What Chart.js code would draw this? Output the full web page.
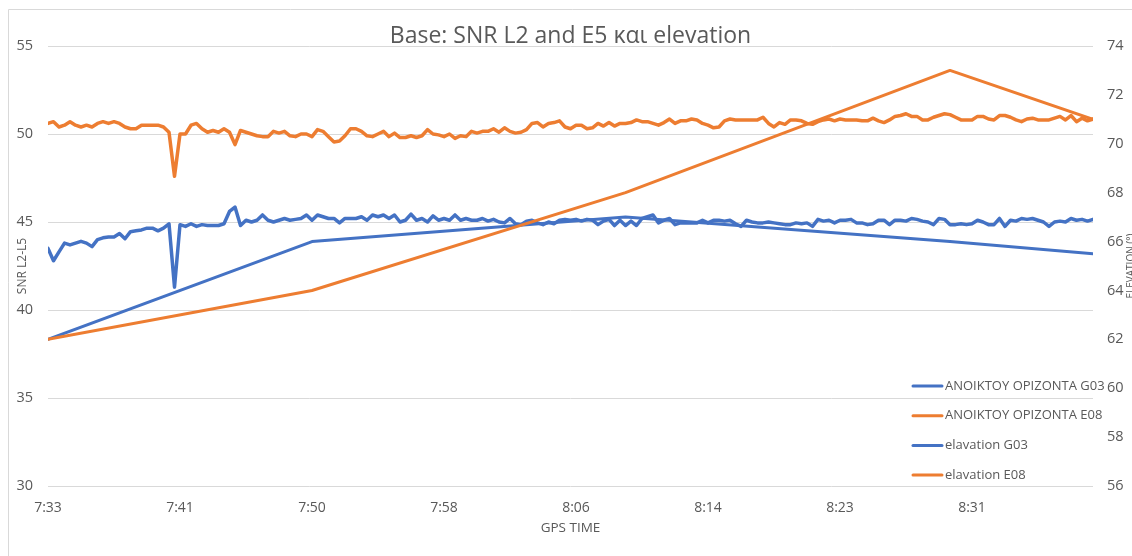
<!DOCTYPE html>
<html>
<head>
<meta charset="utf-8">
<title>Base: SNR L2 and E5 και elevation</title>
<script src="https://cdn.jsdelivr.net/npm/chart.js@4.4.1/dist/chart.umd.min.js"></script>
<style>
  html, body { margin: 0; padding: 0; overflow: hidden; background: #ffffff; }
  canvas { display: block; }
</style>
</head>
<body>
<canvas id="chart" width="1136" height="556"></canvas>
<script>
// GPS time labels, one every 24 samples along the time axis
const tickLabels = ['7:33', '7:41', '7:50', '7:58', '8:06', '8:14', '8:23', '8:31'];
const samplesPerLabel = 24;
const lastSample = 190;

// SNR (dB-Hz), one value per sample 0..190
const snrG03 = [
  43.5, 42.8, 43.3, 43.8, 43.7, 43.8, 43.9, 43.8, 43.6, 44.0, 44.1, 44.15, 44.15, 44.35, 44.05, 44.45, 44.5, 44.55, 44.65, 44.65,
  44.5, 44.65, 44.9, 41.3, 44.85, 44.75, 44.9, 44.75, 44.85, 44.8, 44.8, 44.8, 44.9, 45.6, 45.85, 44.8, 45.1, 45.0, 45.1,
  45.4, 45.1, 45.0, 45.1, 45.2, 45.1, 45.15, 45.2, 45.4, 45.1, 45.4, 45.3, 45.2, 45.2, 44.95, 45.2, 45.2, 45.2, 45.3, 45.1,
  45.4, 45.3, 45.4, 45.2, 45.4, 45.0, 45.1, 45.45, 45.1, 45.2, 45.0, 45.35, 45.1, 45.2, 45.1, 45.4, 45.1, 45.2, 45.1,
  45.1, 45.2, 45.05, 45.15, 45.0, 44.95, 45.2, 44.9, 44.85, 45.05, 45.1, 44.95, 44.85, 45.0, 44.9, 45.1, 45.15, 45.1, 45.15, 45.05,
  45.15, 45.1, 44.85, 45.05, 45.15, 44.8, 45.1, 44.8, 45.05, 44.8, 45.2, 45.3, 45.4, 44.95, 45.1, 45.2, 44.85, 44.95, 44.95,
  44.95, 44.95, 45.1, 44.95, 45.1, 45.1, 45.05, 45.1, 44.9, 44.75, 45.1, 45.0, 44.95, 44.95, 45.0, 44.95, 44.9, 44.85, 44.85, 44.95,
  44.9, 44.95, 44.75, 45.15, 45.05, 45.1, 44.95, 45.1, 45.1, 45.15, 44.95, 44.95, 44.85, 44.9, 45.1, 45.1, 44.85, 45.1, 45.1,
  45.05, 45.2, 45.15, 45.05, 45.0, 44.85, 45.2, 45.15, 44.85, 44.85, 44.9, 44.85, 44.9, 45.1, 45.0, 44.85, 44.85, 45.2, 44.75, 45.1,
  45.05, 45.2, 45.15, 45.2, 45.1, 45.0, 44.75, 45.0, 45.05, 45.0, 45.2, 45.1, 45.15, 45.05, 45.15
];
const snrE08 = [
  50.6, 50.7, 50.4, 50.5, 50.7, 50.5, 50.4, 50.5, 50.4, 50.6, 50.7, 50.6, 50.7, 50.6, 50.4, 50.3, 50.3, 50.5, 50.5, 50.5,
  50.5, 50.4, 50.1, 47.6, 50.0, 50.0, 50.5, 50.6, 50.3, 50.1, 50.2, 50.1, 50.3, 50.1, 49.4, 50.2, 50.1, 50.0, 49.9,
  49.85, 49.85, 50.15, 50.05, 50.15, 49.9, 49.85, 50.0, 50.0, 49.85, 50.25, 50.15, 49.85, 49.55, 49.6, 49.9, 50.3, 50.3, 50.15, 49.9,
  49.85, 50.0, 50.15, 49.85, 50.05, 49.8, 49.8, 49.9, 49.8, 49.9, 50.25, 50.0, 49.95, 49.85, 50.0, 49.75, 49.9, 49.85, 50.15,
  50.05, 50.15, 50.15, 50.3, 50.1, 50.35, 50.15, 50.05, 50.1, 50.25, 50.6, 50.65, 50.4, 50.6, 50.65, 50.75, 50.4, 50.3, 50.5, 50.5,
  50.3, 50.35, 50.6, 50.45, 50.65, 50.45, 50.6, 50.6, 50.65, 50.8, 50.7, 50.7, 50.6, 50.5, 50.65, 50.85, 50.6, 50.75, 50.75,
  50.85, 50.8, 50.6, 50.5, 50.35, 50.4, 50.75, 50.85, 50.8, 50.8, 50.8, 50.8, 50.8, 50.95, 50.6, 50.4, 50.65, 50.55, 50.8, 50.8,
  50.75, 50.6, 50.55, 50.7, 50.8, 50.85, 50.75, 50.85, 50.8, 50.8, 50.8, 50.75, 50.75, 50.9, 50.75, 50.65, 50.8, 51.0, 51.05,
  51.15, 51.0, 51.0, 50.8, 50.8, 50.95, 51.05, 51.15, 51.1, 50.95, 50.8, 50.8, 50.8, 51.0, 51.0, 50.85, 50.8, 51.05, 51.05, 50.95,
  50.8, 50.7, 50.85, 50.9, 50.8, 50.8, 50.8, 50.9, 51.0, 50.8, 51.05, 50.7, 50.9, 50.75, 50.85
];

// Satellite elevation (degrees) at the samples where it was recorded
const elevSamples = [0, 48, 105, 164, 190];
const elevG03 = [62.0, 66.0, 67.0, 66.0, 65.5];
const elevE08 = [62.0, 64.0, 68.0, 73.0, 71.0];

const seriesNames = ['ΑΝΟΙΚΤΟΥ ΟΡΙΖΟΝΤΑ G03', 'ΑΝΟΙΚΤΟΥ ΟΡΙΖΟΝΤΑ E08', 'elavation G03', 'elavation E08'];
const blue = '#4472C4';
const orange = '#ED7D31';
const textGrey = '#595959';
const gridGrey = '#D9D9D9';
const fontFamily = '"Open Sans", "Noto Sans", sans-serif';

Chart.defaults.font.family = fontFamily;
Chart.defaults.color = textGrey;

const snrPoints = values => values.map((v, i) => ({ x: i, y: v }));
const elevPoints = values => values.map((v, k) => ({ x: elevSamples[k], y: v }));

const lineStyle = {
  pointRadius: 0,
  pointHoverRadius: 0,
  tension: 0,
  fill: false,
  borderJoinStyle: 'round',
  borderCapStyle: 'round'
};

// Outer frame, in-plot legend and the secondary axis title
const decorations = {
  id: 'decorations',
  beforeDraw(chart) {
    const { ctx } = chart;
    ctx.save();
    ctx.strokeStyle = gridGrey;
    ctx.lineWidth = 1;
    ctx.beginPath();
    ctx.moveTo(8.5, chart.height);
    ctx.lineTo(8.5, 9.5);
    ctx.lineTo(chart.width, 9.5);
    ctx.stroke();
    ctx.restore();
  },
  afterDraw(chart, args, opts) {
    const { ctx } = chart;
    ctx.save();
    chart.data.datasets.forEach((ds, k) => {
      const y = opts.legendY + k * opts.legendGap;
      ctx.strokeStyle = ds.borderColor;
      ctx.lineWidth = 3;
      ctx.lineCap = 'round';
      ctx.beginPath();
      ctx.moveTo(opts.legendX, y);
      ctx.lineTo(opts.legendX + opts.sampleWidth, y);
      ctx.stroke();
      ctx.fillStyle = textGrey;
      ctx.font = opts.legendFont;
      ctx.textBaseline = 'middle';
      ctx.textAlign = 'left';
      ctx.fillText(ds.label, opts.legendX + opts.sampleWidth + 3, y);
    });
    const right = chart.scales.y2;
    ctx.translate(opts.axisTitleX, (right.top + right.bottom) / 2);
    ctx.rotate(-Math.PI / 2);
    ctx.font = opts.axisTitleFont;
    ctx.textAlign = 'center';
    ctx.textBaseline = 'middle';
    ctx.fillText(opts.axisTitle, 0, 0);
    ctx.restore();
  }
};

new Chart(document.getElementById('chart'), {
  type: 'line',
  data: {
    datasets: [
      { label: seriesNames[0], data: snrPoints(snrG03), borderColor: blue, backgroundColor: blue, borderWidth: 3.5, yAxisID: 'y', order: 4, ...lineStyle },
      { label: seriesNames[1], data: snrPoints(snrE08), borderColor: orange, backgroundColor: orange, borderWidth: 3.5, yAxisID: 'y', order: 3, ...lineStyle },
      { label: seriesNames[2], data: elevPoints(elevG03), borderColor: blue, backgroundColor: blue, borderWidth: 3, yAxisID: 'y2', order: 2, ...lineStyle },
      { label: seriesNames[3], data: elevPoints(elevE08), borderColor: orange, backgroundColor: orange, borderWidth: 3, yAxisID: 'y2', order: 1, ...lineStyle }
    ]
  },
  options: {
    responsive: false,
    animation: false,
    devicePixelRatio: 1,
    events: [],
    layout: { padding: 0 },
    plugins: {
      legend: { display: false },
      tooltip: { enabled: false },
      title: {
        display: true,
        text: 'Base: SNR L2 and E5 και elevation',
        color: textGrey,
        fullSize: false,
        font: { size: 23, weight: '400', lineHeight: 1.2 },
        padding: { top: 23, bottom: -4.6 }
      },
      decorations: {
        legendX: 913,
        legendY: 386,
        legendGap: 29.7,
        sampleWidth: 29,
        legendFont: '13px ' + fontFamily,
        axisTitle: 'ELEVATION (°)',
        axisTitleX: 1131,
        axisTitleFont: '10px ' + fontFamily
      }
    },
    scales: {
      x: {
        type: 'linear',
        min: 0,
        max: lastSample,
        afterBuildTicks: scale => {
          scale.ticks = tickLabels.map((_, k) => ({ value: k * samplesPerLabel }));
        },
        afterFit: scale => { scale.height = 70; },
        ticks: {
          autoSkip: false,
          maxRotation: 0,
          padding: 6,
          font: { size: 14 },
          callback: value => tickLabels[Math.round(value / samplesPerLabel)]
        },
        grid: { display: false },
        border: { display: false },
        title: {
          display: true,
          text: 'GPS TIME',
          font: { size: 13.5 },
          padding: { top: 0, bottom: 20 }
        }
      },
      y: {
        position: 'left',
        min: 30,
        max: 55,
        afterFit: scale => { scale.width = 48; },
        ticks: { stepSize: 5, padding: 15, font: { size: 14.5 } },
        grid: { color: gridGrey, lineWidth: 1, drawTicks: false },
        border: { display: false },
        title: {
          display: true,
          text: 'SNR L2-L5',
          font: { size: 12 },
          padding: { top: 15, bottom: 0 }
        }
      },
      y2: {
        position: 'right',
        min: 56,
        max: 74,
        afterFit: scale => { scale.width = 43; },
        ticks: { stepSize: 2, padding: 14, font: { size: 14.5 } },
        grid: { display: false, drawTicks: false },
        border: { display: false }
      }
    }
  },
  plugins: [decorations]
});
</script>
</body>
</html>
